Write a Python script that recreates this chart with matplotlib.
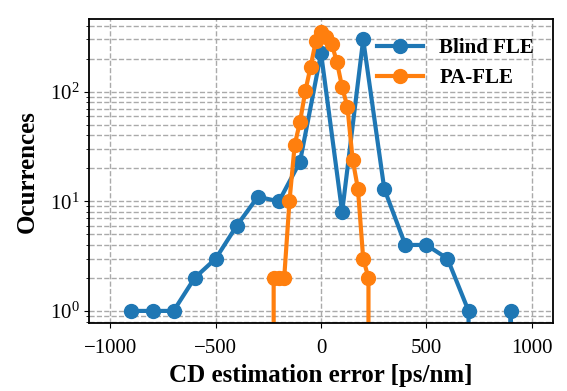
import numpy as np
import matplotlib.pyplot as plt

plt.rcParams["font.family"] = "Liberation Serif"
plt.rcParams["mathtext.fontset"] = "stix"

blind_x = [-900, -800, -700, -600, -500, -400, -300, -200, -100, 0, 100, 200, 300, 400, 500, 600, 700, 800, 900, 1000]
blind_y = [1, 1, 1, 2, 3, 6, 11, 10, 23, 225, 8, 300, 13, 4, 4, 3, 1, 0, 1, 0]

pa_x = [-250, -225, -200, -175, -150, -125, -100, -75, -50, -25, 0, 25, 50, 75, 100, 125, 150, 175, 200, 225, 250]
pa_y = [0, 2, 2, 2, 10, 33, 53, 101, 168, 290, 350, 317, 275, 188, 110, 73, 24, 13, 3, 2, 0]

fig = plt.figure(figsize=(5.67, 3.91), dpi=100)
ax = fig.add_axes([0.1575, 0.173, 0.8175, 0.778])

ax.plot(blind_x, blind_y, "o-", color="#1f77b4", lw=3, ms=10, label="Blind FLE")
ax.plot(pa_x, pa_y, "o-", color="#ff7f0e", lw=3, ms=10, label="PA-FLE")
ax.set_yscale("log")
ax.set_xlim(-1100, 1100)
ax.set_ylim(0.77, 460)
ax.set_xticks([-1000, -500, 0, 500, 1000])

ax.grid(True, which="major", axis="x", linestyle="--", color="#aaaaaa", linewidth=1)
ax.grid(True, which="both", axis="y", linestyle="--", color="#aaaaaa", linewidth=1)
ax.set_axisbelow(True)
for s in ax.spines.values():
    s.set_linewidth(1.3)
ax.tick_params(labelsize=15)
ax.tick_params(axis="x", pad=8)

ax.set_xlabel("CD estimation error [ps/nm]", fontsize=18, fontweight="bold", labelpad=4)
ax.set_ylabel("Ocurrences", fontsize=18, fontweight="bold", labelpad=8)
ax.legend(loc="upper right", frameon=False, prop={"weight": "bold", "size": 15},
          handlelength=2.2, borderaxespad=0.5)

plt.savefig("out.png", dpi=100)
